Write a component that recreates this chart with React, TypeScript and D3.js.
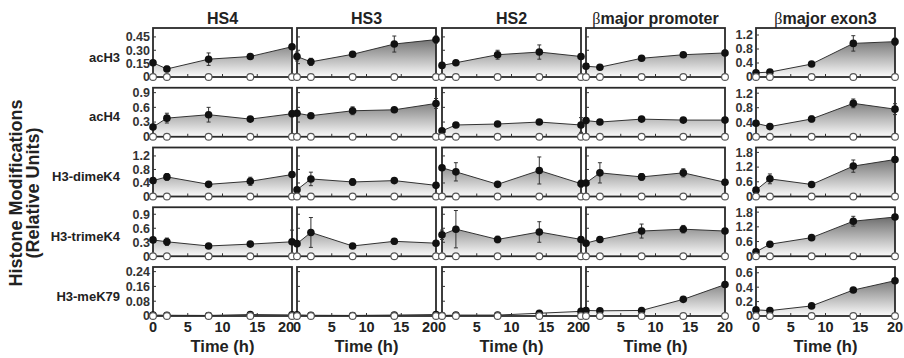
import React, { useEffect, useRef } from "react";
import * as d3 from "d3";

const W = 904;
const H = 358;

// time points (h)
const times = [0, 2, 8, 14, 20];
const xTicks = [0, 5, 10, 15, 20];

const regions = ["HS4", "HS3", "HS2", "βmajor promoter", "βmajor exon3"];
const marks = ["acH3", "acH4", "H3-dimeK4", "H3-trimeK4", "H3-meK79"];

// y ranges: HS4..promoter share a scale per row, exon3 has its own
const yMaxShared = [0.55, 1.0, 1.45, 1.05, 0.265];
const yMaxExon = [1.4, 1.35, 2.0, 2.0, 0.68];
const yTicksShared = [
  ["0", "0.15", "0.30", "0.45"],
  ["0", "0.3", "0.6", "0.9"],
  ["0", "0.4", "0.8", "1.2"],
  ["0", "0.3", "0.6", "0.9"],
  ["0", "0.08", "0.16", "0.24"],
];
const yTicksExon = [
  ["0", "0.4", "0.8", "1.2"],
  ["0", "0.4", "0.8", "1.2"],
  ["0", "0.6", "1.2", "1.8"],
  ["0", "0.6", "1.2", "1.8"],
  ["0", "0.2", "0.4", "0.6"],
];

// one row per region (HS4, HS3, HS2, promoter, exon3), one value per time point
const acH3Mean = [
  [0.16, 0.09, 0.2, 0.23, 0.34],
  [0.23, 0.17, 0.255, 0.37, 0.42],
  [0.13, 0.16, 0.25, 0.28, 0.23],
  [0.12, 0.11, 0.21, 0.25, 0.27],
  [0.12, 0.14, 0.37, 0.96, 1.01],
];
const acH3Err = [
  [0.02, 0.03, 0.07, 0.02, 0.02],
  [0.05, 0.04, 0.02, 0.09, 0.04],
  [0.02, 0.02, 0.05, 0.08, 0.02],
  [0.02, 0.02, 0.02, 0.02, 0.03],
  [0.03, 0.03, 0.04, 0.22, 0.1],
];
const acH4Mean = [
  [0.2, 0.38, 0.45, 0.36, 0.47],
  [0.48, 0.43, 0.53, 0.55, 0.68],
  [0.12, 0.24, 0.26, 0.3, 0.24],
  [0.33, 0.3, 0.36, 0.34, 0.34],
  [0.37, 0.28, 0.49, 0.92, 0.76],
];
const acH4Err = [
  [0.04, 0.1, 0.15, 0.03, 0.06],
  [0.05, 0.03, 0.08, 0.03, 0.1],
  [0.02, 0.03, 0.03, 0.04, 0.15],
  [0.02, 0.02, 0.04, 0.02, 0.04],
  [0.04, 0.03, 0.08, 0.12, 0.15],
];
const dimeK4Mean = [
  [0.47, 0.58, 0.36, 0.45, 0.65],
  [0.2, 0.52, 0.43, 0.47, 0.33],
  [0.85, 0.73, 0.36, 0.77, 0.38],
  [0.4, 0.7, 0.58, 0.7, 0.42],
  [0.26, 0.72, 0.49, 1.24, 1.51],
];
const dimeK4Err = [
  [0.05, 0.1, 0.05, 0.12, 0.05],
  [0.05, 0.2, 0.1, 0.05, 0.05],
  [0.05, 0.27, 0.05, 0.4, 0.1],
  [0.05, 0.3, 0.1, 0.12, 0.05],
  [0.05, 0.2, 0.05, 0.25, 0.1],
];
const trimeK4Mean = [
  [0.35, 0.31, 0.22, 0.26, 0.31],
  [0.27, 0.51, 0.22, 0.32, 0.28],
  [0.46, 0.58, 0.36, 0.52, 0.36],
  [0.28, 0.36, 0.54, 0.58, 0.54],
  [0.18, 0.49, 0.76, 1.43, 1.6],
];
const trimeK4Err = [
  [0.04, 0.08, 0.03, 0.05, 0.25],
  [0.04, 0.32, 0.03, 0.06, 0.04],
  [0.1, 0.4, 0.07, 0.22, 0.04],
  [0.03, 0.04, 0.15, 0.08, 0.04],
  [0.05, 0.05, 0.05, 0.2, 0.1],
];
const meK79Mean = [
  [0.005, 0.004, 0.003, 0.008, 0.006],
  [0.006, 0.004, 0.003, 0.005, 0.008],
  [0.003, 0.005, 0.005, 0.015, 0.025],
  [0.03, 0.028, 0.03, 0.09, 0.17],
  [0.085, 0.075, 0.14, 0.36, 0.49],
];
const meK79Err = [
  [0.002, 0.002, 0.002, 0.002, 0.002],
  [0.002, 0.002, 0.002, 0.002, 0.002],
  [0.002, 0.002, 0.002, 0.003, 0.003],
  [0.004, 0.004, 0.004, 0.006, 0.01],
  [0.01, 0.01, 0.01, 0.02, 0.02],
];
// mock-treated control stays at zero
const control = [0, 0, 0, 0, 0];

const means = [acH3Mean, acH4Mean, dimeK4Mean, trimeK4Mean, meK79Mean];
const errs = [acH3Err, acH4Err, dimeK4Err, trimeK4Err, meK79Err];

// layout
const colLeft = [153, 297, 442, 586, 756];
const panelW = 139;
const rowTop0 = 28;
const rowPitch = 59.75;
const panelH = 49;
const FONT = "'Liberation Sans', Arial, Helvetica, sans-serif";

function draw(node: SVGSVGElement) {
  const svg = d3.select(node);
  svg.selectAll("*").remove();
  svg.style("font-family", FONT);
  const defs = svg.append("defs");

  marks.forEach((mark, r) => {
    const top = rowTop0 + rowPitch * r;
    const bottom = top + panelH;

    // row label
    svg.append("text")
      .attr("x", 120).attr("y", bottom - 20).attr("dy", "0.35em")
      .attr("text-anchor", "end")
      .attr("font-size", 13).attr("font-weight", "bold").attr("fill", "#222")
      .text(mark);

    regions.forEach((region, c) => {
      const left = colLeft[c];
      const isExon = c === 4;
      const x = d3.scaleLinear().domain([0, 20]).range([left, left + panelW]);
      const y = d3.scaleLinear()
        .domain([0, isExon ? yMaxExon[r] : yMaxShared[r]])
        .range([bottom, top]);
      const vals = means[r][c];
      const err = errs[r][c];
      const pts = times.map((t, i) => ({ t, v: vals[i], e: err[i] }));

      const gid = `grad-${r}-${c}`;
      const grad = defs.append("linearGradient")
        .attr("id", gid)
        .attr("gradientUnits", "userSpaceOnUse")
        .attr("x1", 0).attr("x2", 0).attr("y1", top).attr("y2", bottom);
      grad.append("stop").attr("offset", "0%").attr("stop-color", "#4a4a4a");
      grad.append("stop").attr("offset", "100%").attr("stop-color", "#fbfbfb");

      const g = svg.append("g");

      const area = d3.area<{ t: number; v: number }>()
        .x(d => x(d.t)).y0(y(0)).y1(d => y(d.v));
      g.append("path").datum(pts).attr("d", area).attr("fill", `url(#${gid})`);

      const line = d3.line<{ t: number; v: number }>().x(d => x(d.t)).y(d => y(d.v));
      g.append("path").datum(pts).attr("d", line)
        .attr("fill", "none").attr("stroke", "#333").attr("stroke-width", 1);

      // frame
      g.append("rect")
        .attr("x", left).attr("y", top).attr("width", panelW).attr("height", panelH)
        .attr("fill", "none").attr("stroke", "#2a2a2a").attr("stroke-width", 1.8);

      // y ticks
      const yt = isExon ? yTicksExon[r] : yTicksShared[r];
      yt.forEach(s => {
        const v = +s;
        if (v > 0) {
          g.append("line")
            .attr("x1", left).attr("x2", left + 3)
            .attr("y1", y(v)).attr("y2", y(v))
            .attr("stroke", "#333").attr("stroke-width", 1);
        }
        if (c === 0 || isExon) {
          g.append("text")
            .attr("x", left - 3).attr("y", y(v)).attr("dy", "0.35em")
            .attr("text-anchor", "end")
            .attr("font-size", 12.5).attr("font-weight", "bold").attr("fill", "#333")
            .text(s);
        }
      });

      // x ticks
      xTicks.slice(1, -1).forEach(t => {
        g.append("line")
          .attr("x1", x(t)).attr("x2", x(t))
          .attr("y1", bottom).attr("y2", bottom - 3)
          .attr("stroke", "#333").attr("stroke-width", 1);
      });

      if (r === marks.length - 1) {
        xTicks.forEach((t, i) => {
          const shift = i === xTicks.length - 1 && c < 3 ? -6 : 0;
          g.append("text")
            .attr("x", x(t) + shift).attr("y", bottom + 16)
            .attr("text-anchor", "middle")
            .attr("font-size", 14.5).attr("font-weight", "bold").attr("fill", "#222")
            .text(t);
        });
        g.append("text")
          .attr("x", left + panelW / 2).attr("y", bottom + 36)
          .attr("text-anchor", "middle")
          .attr("font-size", 16.5).attr("font-weight", "bold").attr("fill", "#222")
          .text("Time (h)");
      }

      if (r === 0) {
        const title = g.append("text")
          .attr("x", left + panelW / 2).attr("y", top - 4)
          .attr("text-anchor", "middle")
          .attr("font-size", 16).attr("font-weight", "bold").attr("fill", "#222");
        if (region.startsWith("β")) {
          title.append("tspan")
            .attr("font-family", "'Liberation Serif', 'DejaVu Serif', serif")
            .attr("font-weight", "normal")
            .text("β");
          title.append("tspan").text(region.slice(1));
        } else {
          title.text(region);
        }
      }

      // error bars
      pts.forEach(d => {
        const y0 = y(Math.max(0, d.v - d.e));
        const y1 = y(d.v + d.e);
        g.append("line")
          .attr("x1", x(d.t)).attr("x2", x(d.t)).attr("y1", y0).attr("y2", y1)
          .attr("stroke", "#333").attr("stroke-width", 1);
        [y0, y1].forEach(yy => {
          g.append("line")
            .attr("x1", x(d.t) - 2).attr("x2", x(d.t) + 2).attr("y1", yy).attr("y2", yy)
            .attr("stroke", "#333").attr("stroke-width", 1);
        });
      });

      g.selectAll("circle.fill")
        .data(pts).join("circle")
        .attr("class", "fill")
        .attr("cx", d => x(d.t)).attr("cy", d => y(d.v)).attr("r", 3.8)
        .attr("fill", "#111");

      g.selectAll("circle.ctrl")
        .data(times.map((t, i) => ({ t, v: control[i] }))).join("circle")
        .attr("class", "ctrl")
        .attr("cx", d => x(d.t)).attr("cy", d => y(d.v)).attr("r", 3.4)
        .attr("fill", "#fff").attr("stroke", "#555").attr("stroke-width", 1.1);
    });
  });

  // y axis title
  const cy = 193;
  svg.append("text")
    .attr("transform", `translate(22,${cy}) rotate(-90)`)
    .attr("text-anchor", "middle")
    .attr("font-size", 18).attr("font-weight", "bold").attr("fill", "#222")
    .text("Histone Modifications");
  svg.append("text")
    .attr("transform", `translate(39,${cy}) rotate(-90)`)
    .attr("text-anchor", "middle")
    .attr("font-size", 18).attr("font-weight", "bold").attr("fill", "#222")
    .text("(Relative Units)");
}

export default function App() {
  const ref = useRef<SVGSVGElement>(null);
  useEffect(() => {
    if (ref.current) draw(ref.current);
  }, []);
  return (
    <svg
      ref={ref}
      width={W}
      height={H}
      style={{ position: "absolute", left: 0, top: 0, background: "#fff" }}
    />
  );
}
